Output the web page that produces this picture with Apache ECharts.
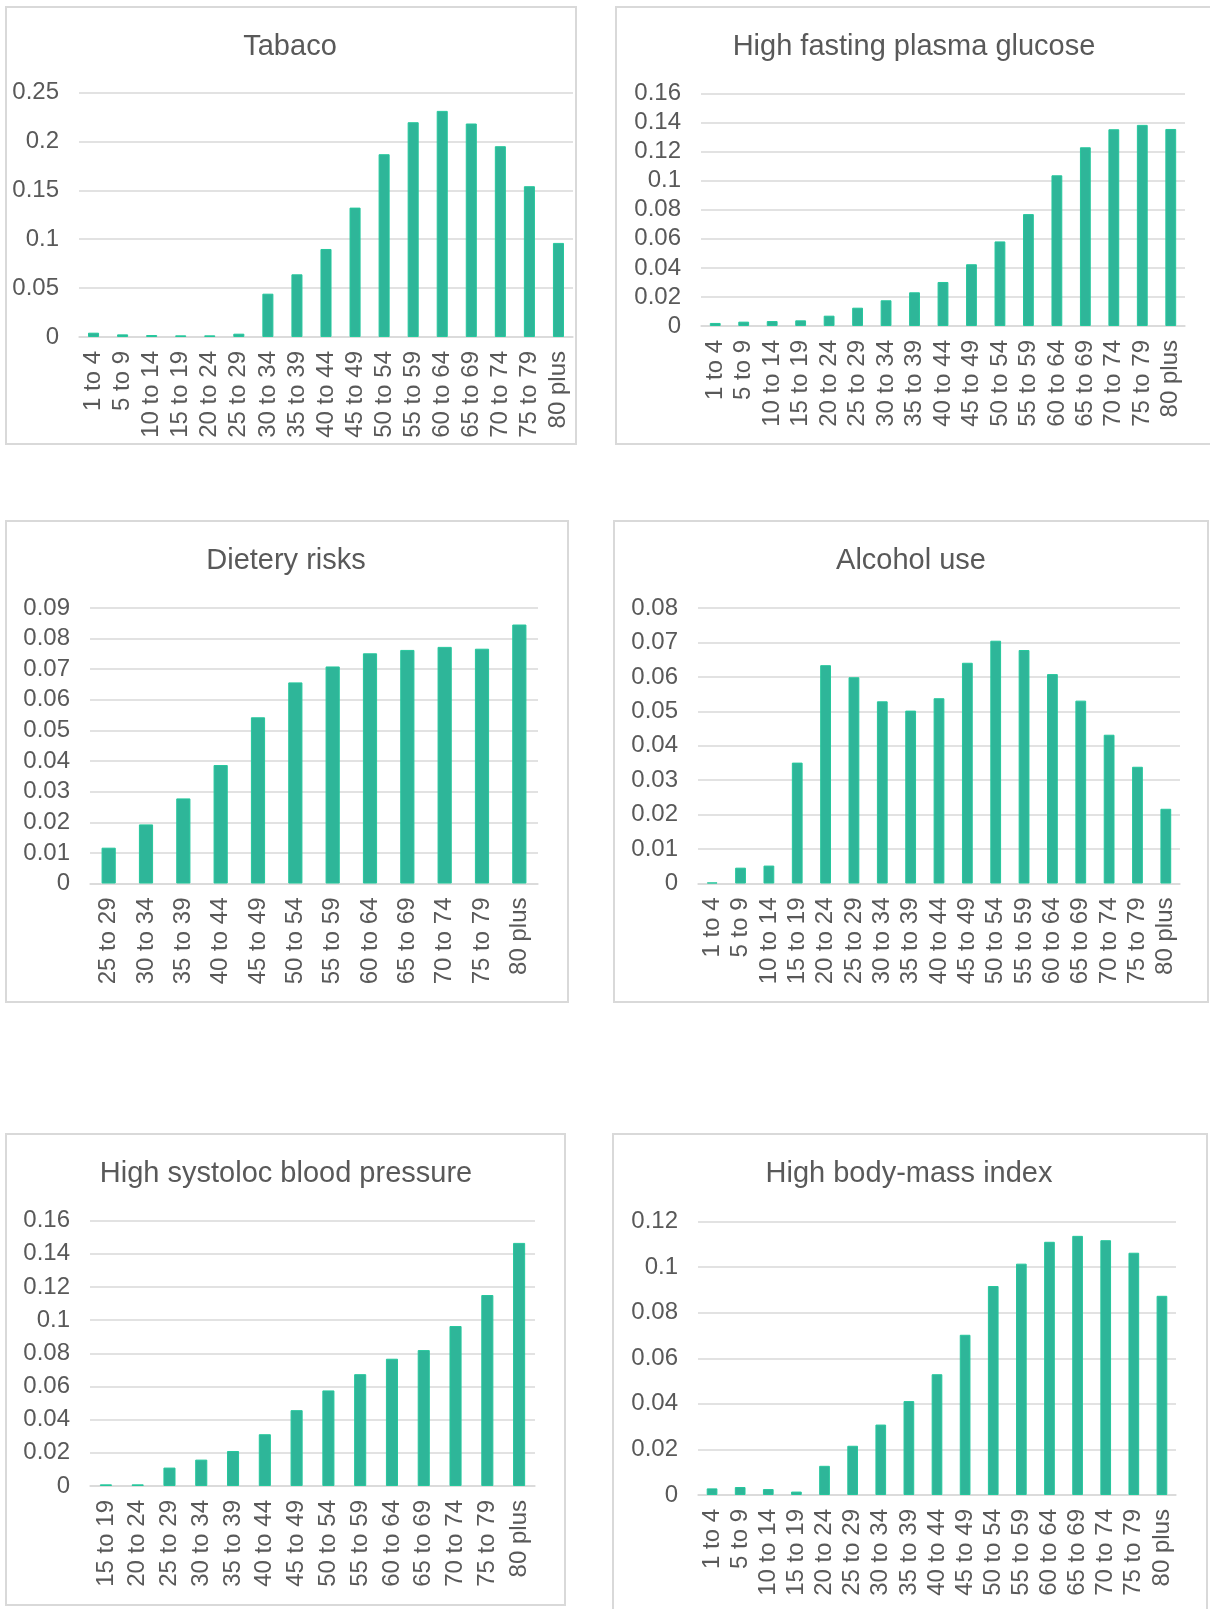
<!DOCTYPE html>
<html>
<head>
<meta charset="utf-8">
<script src="https://cdn.jsdelivr.net/npm/echarts@6/dist/echarts.min.js"></script>
<style>
  html, body { margin: 0; padding: 0; background: #ffffff; }
  #chart { width: 1210px; height: 1609px; }
</style>
</head>
<body>
<div id="chart"></div>
<script>
// Age groups
const agesAll = ['1 to 4', '5 to 9', '10 to 14', '15 to 19', '20 to 24', '25 to 29', '30 to 34',
  '35 to 39', '40 to 44', '45 to 49', '50 to 54', '55 to 59', '60 to 64', '65 to 69',
  '70 to 74', '75 to 79', '80 plus'];
const agesFrom25 = ['25 to 29', '30 to 34', '35 to 39', '40 to 44', '45 to 49', '50 to 54',
  '55 to 59', '60 to 64', '65 to 69', '70 to 74', '75 to 79', '80 plus'];
const agesFrom15 = ['15 to 19', '20 to 24', '25 to 29', '30 to 34', '35 to 39', '40 to 44',
  '45 to 49', '50 to 54', '55 to 59', '60 to 64', '65 to 69', '70 to 74', '75 to 79', '80 plus'];

// Risk-factor values per age group
const tobaccoValues = [0.0044, 0.0027, 0.002, 0.0017, 0.0017, 0.0034, 0.0443, 0.0641, 0.090,
  0.1323, 0.1869, 0.2196, 0.2312, 0.2183, 0.1951, 0.1542, 0.0962];
const glucoseValues = [0.0021, 0.003, 0.0034, 0.0039, 0.0071, 0.0126, 0.0177, 0.0232, 0.0303,
  0.0425, 0.0582, 0.077, 0.1037, 0.123, 0.1354, 0.1384, 0.1356];
const dietValues = [0.0117, 0.0193, 0.0278, 0.0387, 0.0543, 0.0657, 0.0709, 0.0752, 0.0763,
  0.0773, 0.0767, 0.0846];
const alcoholValues = [0.0003, 0.0046, 0.0052, 0.0351, 0.0634, 0.0599, 0.0529, 0.0502, 0.0538,
  0.0641, 0.0705, 0.0678, 0.0608, 0.0531, 0.0432, 0.0339, 0.0217];
const bloodPressureValues = [0.001, 0.001, 0.0111, 0.0159, 0.0211, 0.0312, 0.0457, 0.0576,
  0.0674, 0.0767, 0.0819, 0.0964, 0.1151, 0.1465];
const bmiValues = [0.0029, 0.0035, 0.0026, 0.0015, 0.0128, 0.0216, 0.0309, 0.0412, 0.053,
  0.0703, 0.0917, 0.1015, 0.1111, 0.1137, 0.1118, 0.1063, 0.0874];

// Panel titles and value-axis ranges
const panelTitles = ['Tabaco', 'High fasting plasma glucose', 'Dietery risks', 'Alcohol use',
  'High systoloc blood pressure', 'High body-mass index'];
const panelCategories = [agesAll, agesAll, agesFrom25, agesAll, agesFrom15, agesAll];
const panelValues = [tobaccoValues, glucoseValues, dietValues, alcoholValues, bloodPressureValues, bmiValues];
const axisMax = [0.25, 0.16, 0.09, 0.08, 0.16, 0.12];
const axisStep = [0.05, 0.02, 0.01, 0.01, 0.02, 0.02];

// Layout of each panel: frame, plot area and title anchor (pixels)
const frames = [
  { x: 6, y: 7, w: 570, h: 437 },
  { x: 616, y: 7, w: 610, h: 437 },
  { x: 6, y: 521, w: 562, h: 481 },
  { x: 614, y: 521, w: 594, h: 481 },
  { x: 6, y: 1134, w: 559, h: 471 },
  { x: 613, y: 1134, w: 594, h: 490 }
];
const plots = [
  { left: 79, top: 92.5, width: 494, height: 244.5 },
  { left: 701, top: 93.5, width: 484, height: 232.5 },
  { left: 90, top: 608, width: 448, height: 275.5 },
  { left: 698, top: 608, width: 482, height: 275.5 },
  { left: 90, top: 1220.5, width: 445, height: 265.5 },
  { left: 698, top: 1221.5, width: 478, height: 273.5 }
];
const titleAnchors = [
  { x: 290, y: 32 }, { x: 914, y: 32 }, { x: 286, y: 546 },
  { x: 911, y: 546 }, { x: 286, y: 1159 }, { x: 909, y: 1159 }
];

const FONT = "'Liberation Sans', Arial, sans-serif";
const TEXT = '#595959';
const GRID = '#d9d9d9';
const BAR = '#2eb699';

const chart = echarts.init(document.getElementById('chart'), null, { renderer: 'canvas' });

const option = {
  backgroundColor: '#ffffff',
  animation: false,
  title: panelTitles.map((t, i) => ({
    text: t,
    left: titleAnchors[i].x,
    top: titleAnchors[i].y,
    textAlign: 'center',
    padding: 0,
    textStyle: { color: TEXT, fontFamily: FONT, fontSize: 29, fontWeight: 'normal' }
  })),
  graphic: frames.map(f => ({
    type: 'rect',
    silent: true,
    z: -1,
    shape: { x: f.x, y: f.y, width: f.w, height: f.h },
    style: { fill: 'none', stroke: GRID, lineWidth: 2 }
  })),
  grid: plots.map(p => ({ left: p.left, top: p.top, width: p.width, height: p.height, containLabel: false })),
  xAxis: panelCategories.map((cats, i) => ({
    type: 'category',
    gridIndex: i,
    data: cats,
    axisLine: { show: true, lineStyle: { color: GRID, width: 1.5 } },
    axisTick: { show: false },
    axisLabel: { interval: 0, rotate: 90, margin: 14, color: TEXT, fontFamily: FONT, fontSize: 24 }
  })),
  yAxis: axisMax.map((m, i) => ({
    type: 'value',
    gridIndex: i,
    min: 0,
    max: m,
    interval: axisStep[i],
    axisLine: { show: false },
    axisTick: { show: false },
    splitLine: { lineStyle: { color: GRID, width: 1.5 } },
    axisLabel: { margin: 20, color: TEXT, fontFamily: FONT, fontSize: 24, padding: [3, 0, 0, 0] }
  })),
  series: panelValues.map((vals, i) => ({
    type: 'bar',
    xAxisIndex: i,
    yAxisIndex: i,
    data: vals,
    barWidth: '38%',
    itemStyle: { color: BAR, borderColor: '#25c79c', borderWidth: 1 }
  }))
};

chart.setOption(option);
</script>
</body>
</html>
